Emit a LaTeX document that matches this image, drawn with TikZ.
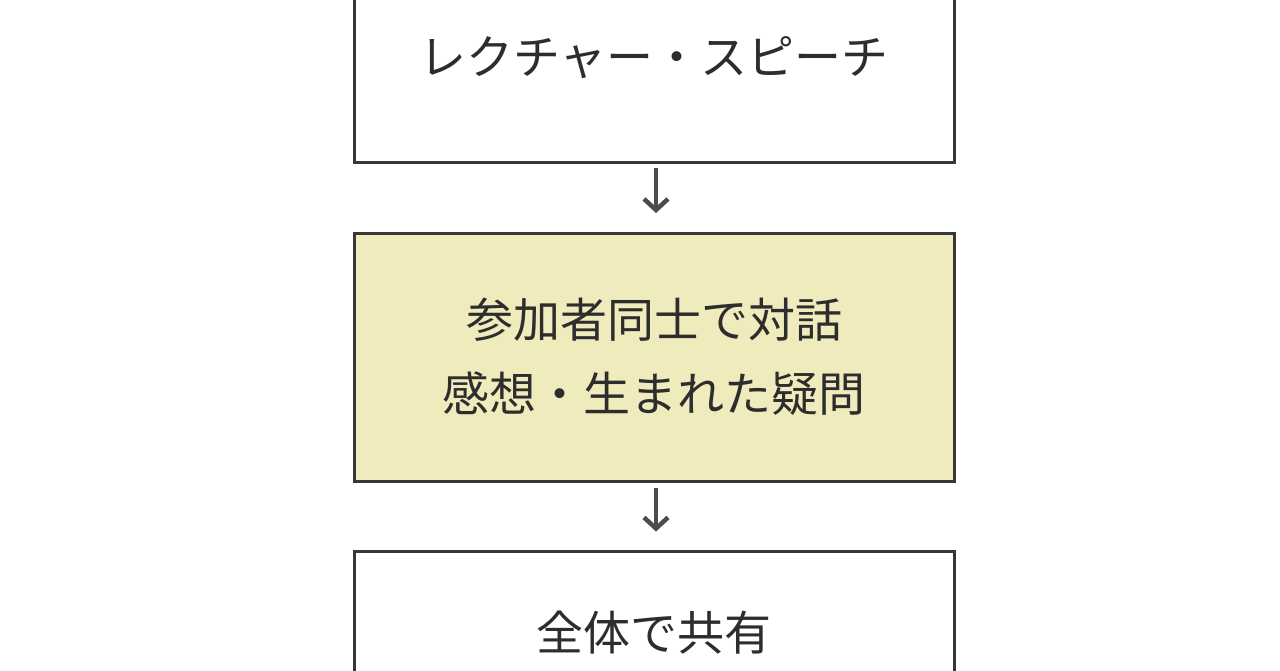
\documentclass[tikz,border=0pt]{standalone}
\usepackage{fontspec}
\setmainfont{Noto Sans CJK JP}
\usetikzlibrary{arrows.meta}
\definecolor{boxline}{RGB}{55,55,55}
\definecolor{talkfill}{RGB}{239,235,188}
\definecolor{txt}{RGB}{45,45,45}

\begin{document}
\begin{tikzpicture}[x=1pt,y=-1pt,font=\fontsize{47}{74}\selectfont]
\tikzstyle{b}=[draw=boxline,line width=3pt,minimum width=600pt,text=txt,align=center,inner sep=0pt]
\tikzstyle{a}=[draw=gray!60!black,line width=4.5pt,-{Straight Barb[length=11pt,width=24pt,line width=4.5pt]}]
\fill[white] (0,0) rectangle (1280,670);
\useasboundingbox (0,0) rectangle (1280,670);
\node[b,minimum height=208pt] (lecture) at (654,58) {レクチャー・スピーチ};
\node[b,fill=talkfill,minimum height=248pt] (talk) at (654,357) {参加者同士で対話\\感想・生まれた疑問};
\node[b,minimum height=164pt] (share) at (654,633) {全体で共有};
\draw[a,shorten <=4.5pt,shorten >=18.5pt] ([xshift=2pt]lecture.south) -- ([xshift=2pt]talk.north);
\draw[a,shorten <=5pt,shorten >=18pt] ([xshift=2pt]talk.south) -- ([xshift=2pt]share.north);
\end{tikzpicture}
\end{document}
